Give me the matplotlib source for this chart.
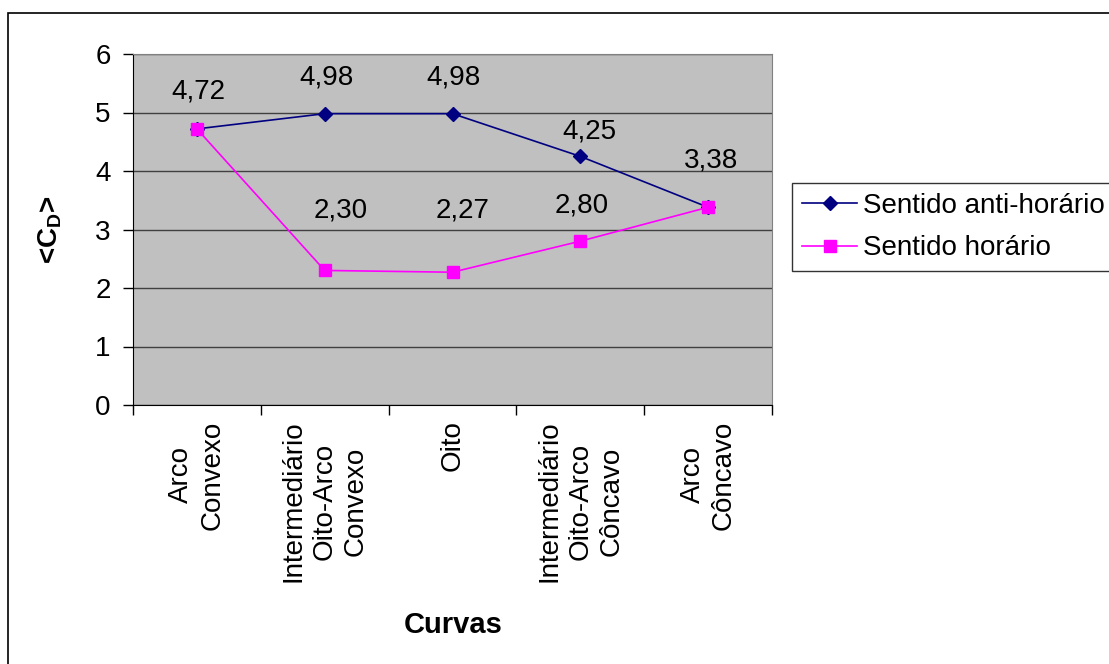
import matplotlib
matplotlib.use("Agg")
import matplotlib.pyplot as plt
from matplotlib.patches import Rectangle

plt.rcParams["font.family"] = ["Liberation Sans", "DejaVu Sans"]
plt.rcParams["mathtext.fontset"] = "custom"
plt.rcParams["mathtext.rm"] = "Liberation Sans"
plt.rcParams["mathtext.bf"] = "Liberation Sans:bold"

# ============================================================
# dados
# ============================================================
curvas = ["Arco\nConvexo", "Intermediário\nOito-Arco\nConvexo", "Oito",
          "Intermediário\nOito-Arco\nCôncavo", "Arco\nCôncavo"]
anti_horario = [4.72, 4.98, 4.98, 4.25, 3.38]
horario = [4.72, 2.30, 2.27, 2.80, 3.38]

# deslocamento dos rótulos (pixels) - None = rótulo escondido
off_anti = [(1, 37), (2, 36), (1, 36), (9, 25), (3, 47)]
off_hor = [None, (16, 60), (10, 62), (1, 36), None]

FS = 20

# ============================================================
# figura
# ============================================================
fig = plt.figure(figsize=(11.09, 6.64), dpi=100)
fig.patches.append(Rectangle((8 / 1109, -0.1), 1.2, 1 - 13 / 664 + 0.1,
                             transform=fig.transFigure, fill=False,
                             edgecolor="black", lw=1.2))

ax = fig.add_axes([133 / 1109, 1 - 405 / 664, (772 - 133) / 1109, (405 - 54) / 664])
ax.set_facecolor("#C0C0C0")

x = list(range(len(curvas)))
ax.plot(x, anti_horario, color="#000080", marker="D", markersize=7, lw=1.2,
        label="Sentido anti-horário", zorder=3)
ax.plot(x, horario, color="#FF00FF", marker="s", markersize=8, lw=1.2,
        label="Sentido horário", zorder=4)

for xi, v, off in zip(x, anti_horario, off_anti):
    if off is not None:
        ax.annotate(f"{v:.2f}".replace(".", ","), (xi, v), xytext=off,
                    textcoords="offset pixels", ha="center", va="center", fontsize=FS)
for xi, v, off in zip(x, horario, off_hor):
    if off is not None:
        ax.annotate(f"{v:.2f}".replace(".", ","), (xi, v), xytext=off,
                    textcoords="offset pixels", ha="center", va="center", fontsize=FS)

ax.set_xlim(-0.5, len(curvas) - 0.5)
ax.set_ylim(0, 6)
ax.set_yticks(range(7))
ax.tick_params(axis="y", labelsize=FS, length=7, width=1, pad=9, direction="out")
ax.grid(axis="y", color="#404040", lw=1)
ax.set_axisbelow(True)

ax.set_xticks(x)
ax.set_xticklabels(curvas, rotation=90, ha="center", va="top",
                   multialignment="center", fontsize=FS, linespacing=1.25)
ax.set_xticks([i - 0.5 for i in range(len(curvas) + 1)], minor=True)
ax.tick_params(axis="x", which="major", length=0, pad=11)
ax.tick_params(axis="x", which="minor", length=7, width=1)

for s in ["top", "right"]:
    ax.spines[s].set_color("#808080")
for s in ["left", "bottom"]:
    ax.spines[s].set_color("black")

fig.text(50 / 1109, 1 - 230 / 664, r"<C$_{\mathbf{D}}$>", rotation=90,
         ha="center", va="center", fontsize=FS, fontweight="bold")
fig.text(453 / 1109, 1 - 625 / 664, "Curvas", ha="center", va="center",
         fontsize=21, fontweight="bold")

leg = ax.legend(loc="upper left", bbox_to_anchor=(792 / 1109, 1 - 183 / 664),
                bbox_transform=fig.transFigure, fontsize=FS, frameon=True,
                fancybox=False, borderaxespad=0, handlelength=2.0,
                handletextpad=0.2, borderpad=0.35, labelspacing=0.6)
leg.get_frame().set_edgecolor("black")
leg.get_frame().set_linewidth(1)

fig.savefig("out.png", dpi=100)
